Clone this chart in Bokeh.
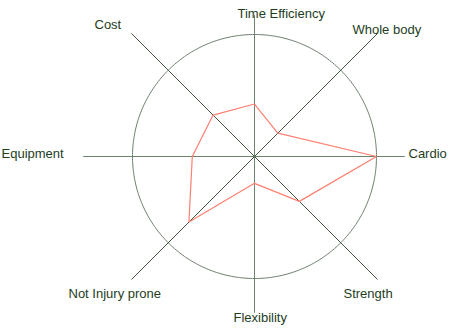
import math
from bokeh.plotting import figure
from bokeh.models import Range1d, ColumnDataSource
from bokeh.core.properties import value
from bokeh.embed import file_html
from bokeh.resources import INLINE

categories = ["Time Efficiency", "Whole body", "Cardio", "Strength",
              "Flexibility", "Not Injury prone", "Equipment", "Cost"]
values = [4.3, 2.7, 10.0, 5.2, 2.2, 7.6, 5.1, 4.8]
max_value = 10.0

R = 122.0  # radius in screen-like units
CX, CY = 254.0, 156.0
W, H = 454, 329

p = figure(width=W, height=H, output_backend="svg", toolbar_location=None,
           x_range=Range1d(-CX, W - CX), y_range=Range1d(-(H - CY), CY),
           min_border=0, outline_line_color=None)
p.axis.visible = False
p.grid.visible = False
p.background_fill_color = "white"
p.border_fill_color = "white"

n = len(categories)
angles = [math.pi / 2 - i * 2 * math.pi / n for i in range(n)]

# outer circle
t = [i * 2 * math.pi / 360 for i in range(361)]
p.line([R * math.cos(a) for a in t], [R * math.sin(a) for a in t],
       line_color="#6f7f6f", line_width=1)

# spokes
for i, a in enumerate(angles):
    if i % 4 == 0:
        ends = [(0, 141), (0, -156)]
        col = "#6d836d"
    elif i % 4 == 2:
        ends = [(150, 0), (-171, 0)]
        col = "#6d836d"
    else:
        L = 174
        ends = [(L * math.cos(a), L * math.sin(a))]
        col = "#3f563f"
    for ex, ey in ends:
        p.line([0, ex], [0, ey], line_color=col, line_width=1)

# data polygon
xs = [v / max_value * R * math.cos(a) for v, a in zip(values, angles)]
ys = [v / max_value * R * math.sin(a) for v, a in zip(values, angles)]
p.line(xs + [xs[0]], ys + [ys[0]], line_color="#ff7f70", line_width=1.2)

# labels (left edge x, center y in screen pixels)
label_pos = [(237, 13), (352, 29), (408, 153), (343, 293),
             (233, 317), (68, 293), (1, 153), (94, 24)]
src = ColumnDataSource(dict(
    x=[lx - CX for lx, ly in label_pos],
    y=[CY - ly for lx, ly in label_pos],
    text=categories))
p.text(x="x", y="y", text="text", source=src, text_align="left",
       text_baseline="middle", text_font_size="13px",
       text_font=value("Liberation Sans"), text_color="#1d3d1d")

open("out.html", "w").write(file_html(p, INLINE))
